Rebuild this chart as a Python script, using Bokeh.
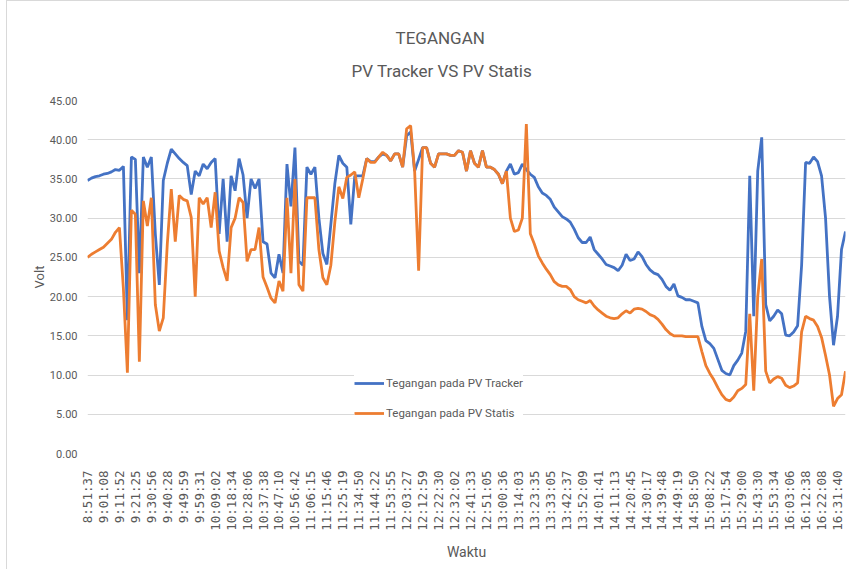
import math
from bokeh.plotting import figure
from bokeh.models import (Range1d, FixedTicker, NumeralTickFormatter, Legend,
                          LegendItem, Title, ColumnDataSource)
from bokeh.embed import file_html
from bokeh.resources import INLINE

# ---- data ---------------------------------------------------------------
time_labels = [
    "8:51:37", "9:01:08", "9:11:52", "9:21:25", "9:30:56", "9:40:28", "9:49:59",
    "9:59:31", "10:09:02", "10:18:34", "10:28:06", "10:37:38", "10:47:10",
    "10:56:42", "11:06:15", "11:15:46", "11:25:19", "11:34:50", "11:44:22",
    "11:53:55", "12:03:27", "12:12:59", "12:22:30", "12:32:02", "12:41:33",
    "12:51:05", "13:00:36", "13:14:03", "13:23:35", "13:33:05", "13:42:37",
    "13:52:09", "14:01:41", "14:11:13", "14:20:45", "14:30:17", "14:39:48",
    "14:49:19", "14:58:50", "15:08:22", "15:17:54", "15:29:00", "15:43:30",
    "15:53:34", "16:03:06", "16:12:38", "16:22:08", "16:31:40",
]
SAMPLES_PER_LABEL = 4

tracker = [
    34.8, 35.1, 35.3, 35.4, 35.6, 35.7, 35.9, 36.2, 36.1, 36.6,
    17.0, 37.8, 37.5, 23.0, 37.8, 36.5, 37.8, 28.0, 21.5,
    34.8, 37.0, 38.8, 38.2, 37.6, 37.1, 36.7, 33.0, 36.0, 35.4,
    36.9, 36.3, 37.1, 37.6, 28.0, 35.0, 27.0, 35.4,
    33.5, 37.6, 35.5, 30.0, 35.0, 33.8, 35.0, 27.0, 26.7,
    23.0, 22.4, 25.4, 23.0, 36.9, 31.5, 39.0, 24.5, 24.0, 36.5,
    35.6, 36.5, 30.0, 25.5, 24.1, 29.2, 34.4, 38.0, 37.0, 36.5,
    29.2, 35.4, 35.4, 35.4, 37.6, 37.2, 37.2, 37.8, 38.2,
    38.0, 37.3, 38.2, 38.2, 36.5, 40.5, 41.0, 36.0, 37.5, 39.0,
    39.0, 37.0, 36.5, 38.2, 38.2, 38.2, 38.0, 38.0, 38.6, 38.4,
    36.0, 38.6, 37.0, 36.5, 38.6, 36.5, 36.5, 36.2, 35.6,
    34.4, 36.0, 36.9, 35.6, 35.8, 36.9, 36.2, 35.6, 35.2, 34.0,
    33.2, 32.9, 32.4, 31.4, 30.8, 30.2, 29.9, 29.5, 28.6, 27.5,
    26.9, 26.9, 27.6, 26.0, 25.4, 24.8, 24.1, 23.9, 23.7,
    23.3, 24.0, 25.4, 24.6, 24.8, 25.7, 25.1, 24.1, 23.4, 23.0,
    22.8, 22.2, 21.3, 20.8, 21.6, 20.1, 19.9, 19.6, 19.6, 19.4,
    19.2, 16.2, 14.4, 14.0, 13.4, 12.0, 10.6, 10.2, 10.0,
    11.2, 11.9, 12.8, 15.6, 35.4, 17.5, 36.0, 40.3, 19.0, 16.9,
    17.5, 18.3, 17.8, 15.1, 15.0, 15.5, 16.3, 24.0, 37.1, 37.0,
    37.8, 37.2, 35.4, 30.0, 20.0, 13.8, 17.5, 26.0, 28.3,
]

statis = [
    25.0, 25.4, 25.7, 26.0, 26.3, 26.8, 27.3, 28.2, 28.8, 21.0,
    10.3, 31.0, 30.5, 11.7, 32.2, 29.0, 32.6, 19.0, 15.6,
    17.3, 26.7, 33.7, 27.0, 32.9, 32.4, 32.2, 30.1, 20.0, 32.6,
    31.8, 32.6, 28.8, 33.3, 25.8, 23.7, 22.0, 28.8,
    30.0, 32.6, 32.0, 24.5, 26.0, 26.0, 28.8, 22.5, 21.2,
    19.8, 19.2, 22.0, 20.7, 32.6, 23.0, 35.0, 21.5, 20.7, 32.6,
    32.6, 32.6, 26.0, 22.4, 21.5, 24.0, 29.5, 34.0, 32.5, 35.2,
    35.5, 35.9, 32.6, 35.0, 37.6, 37.1, 37.1, 37.8, 38.4,
    38.0, 37.3, 38.2, 38.2, 36.5, 41.4, 41.8, 36.0, 23.3, 39.0,
    39.0, 37.0, 36.5, 38.2, 38.2, 38.2, 38.0, 38.0, 38.6, 38.4,
    36.0, 38.6, 37.0, 36.5, 38.6, 36.5, 36.5, 36.2, 35.6,
    34.4, 36.0, 30.0, 28.3, 28.5, 30.0, 42.0, 28.0, 26.7, 25.2,
    24.3, 23.5, 22.8, 21.9, 21.5, 21.3, 21.3, 20.9, 20.0, 19.6,
    19.4, 19.2, 19.5, 18.8, 18.3, 17.9, 17.5, 17.3, 17.2,
    17.3, 17.8, 18.2, 17.9, 18.4, 18.5, 18.4, 18.1, 17.7, 17.5,
    17.1, 16.5, 15.8, 15.3, 15.0, 15.0, 15.0, 14.9, 14.9, 14.9,
    14.9, 13.0, 11.2, 10.2, 9.4, 8.4, 7.5, 6.9, 6.7,
    7.2, 8.0, 8.3, 8.8, 17.8, 8.0, 20.0, 24.8, 10.5, 9.0,
    9.5, 9.8, 9.6, 8.7, 8.4, 8.6, 9.0, 15.5, 17.5, 17.2,
    17.0, 16.2, 14.8, 12.5, 10.0, 6.0, 7.0, 7.5, 10.5,
]

y_ticks = [0, 5, 10, 15, 20, 25, 30, 35, 40, 45]

# ---- figure -------------------------------------------------------------
n = len(tracker)
src = ColumnDataSource(dict(i=list(range(n)), tracker=tracker, statis=statis))

GRAY = "#595959"

p = figure(width=843, height=569, output_backend="svg", toolbar_location=None,
           x_range=Range1d(0, n - 1), y_range=Range1d(0, 45),
           min_border_left=80, min_border_right=5, min_border_top=99,
           min_border_bottom=117)
p.margin = (0, 0, 0, 6)
p.styles = {"border-left": "1px solid #D9D9D9", "border-top": "1px solid #D9D9D9"}
p.outline_line_color = None
p.background_fill_color = "white"
p.border_fill_color = "white"

p.title.text = "TEGANGAN"
p.title.align = "left"
p.title.offset = 308
p.title.text_font = "Roboto"
p.title.text_font_size = "17px"
p.title.text_font_style = "normal"
p.title.text_color = GRAY
p.title.standoff = 21

# empty spacer between the subtitle and the plot area (closest to the frame)
p.add_layout(Title(text=" ", text_font_size="16px", standoff=0), "above")
p.add_layout(Title(text="PV Tracker VS PV Statis", align="left", offset=264,
                   text_font="Roboto", text_font_size="17px",
                   text_font_style="normal", text_color=GRAY, standoff=1),
             "above")

# lines
r1 = p.line("i", "tracker", source=src, line_color="#4472C4", line_width=2.8)
r2 = p.line("i", "statis", source=src, line_color="#ED7D31", line_width=2.8)

# grid
p.xgrid.grid_line_color = None
p.ygrid.grid_line_color = "#D9D9D9"
p.ygrid.grid_line_width = 1

# y axis
p.yaxis.ticker = FixedTicker(ticks=y_ticks)
p.yaxis.formatter = NumeralTickFormatter(format="0.00")
p.yaxis.axis_line_color = None
p.yaxis.major_tick_line_color = None
p.yaxis.minor_tick_line_color = None
p.yaxis.major_label_text_font = "Roboto"
p.yaxis.major_label_text_font_size = "11px"
p.yaxis.major_label_text_color = GRAY
p.yaxis.major_label_standoff = 4
p.yaxis.axis_label = "Volt"
p.yaxis.axis_label_text_font = "Roboto"
p.yaxis.axis_label_text_font_size = "13px"
p.yaxis.axis_label_text_font_style = "normal"
p.yaxis.axis_label_text_color = GRAY
p.yaxis.axis_label_standoff = 0

# x axis
tick_pos = [k * SAMPLES_PER_LABEL for k in range(len(time_labels))]
p.xaxis.ticker = FixedTicker(ticks=tick_pos)
p.xaxis.major_label_overrides = {t: lab for t, lab in zip(tick_pos, time_labels)}
p.xaxis.major_label_orientation = math.pi / 2
p.xaxis.axis_line_color = None
p.xaxis.major_tick_line_color = None
p.xaxis.minor_tick_line_color = None
p.xaxis.major_label_text_font = "DejaVu Sans Mono"
p.xaxis.major_label_text_font_size = "12.5px"
p.xaxis.major_label_text_color = GRAY
p.xaxis.major_label_standoff = 11
p.xaxis.axis_label = "Waktu"
p.xaxis.axis_label_text_font = "Roboto"
p.xaxis.axis_label_text_font_size = "14px"
p.xaxis.axis_label_text_font_style = "normal"
p.xaxis.axis_label_text_color = GRAY
p.xaxis.axis_label_standoff = 10

# legend
legend = Legend(items=[LegendItem(label="Tegangan pada PV Tracker", renderers=[r1]),
                       LegendItem(label="Tegangan pada PV Statis", renderers=[r2])],
                location=(267, 30), orientation="vertical",
                padding=0, margin=0, spacing=10,
                glyph_width=30, glyph_height=20, label_height=20,
                label_standoff=2,
                label_text_font="Roboto", label_text_font_size="11.5px",
                label_text_color=GRAY,
                background_fill_color="white", background_fill_alpha=1.0,
                border_line_color=None)
p.add_layout(legend, "center")

open("out.html", "w").write(file_html(p, INLINE))
